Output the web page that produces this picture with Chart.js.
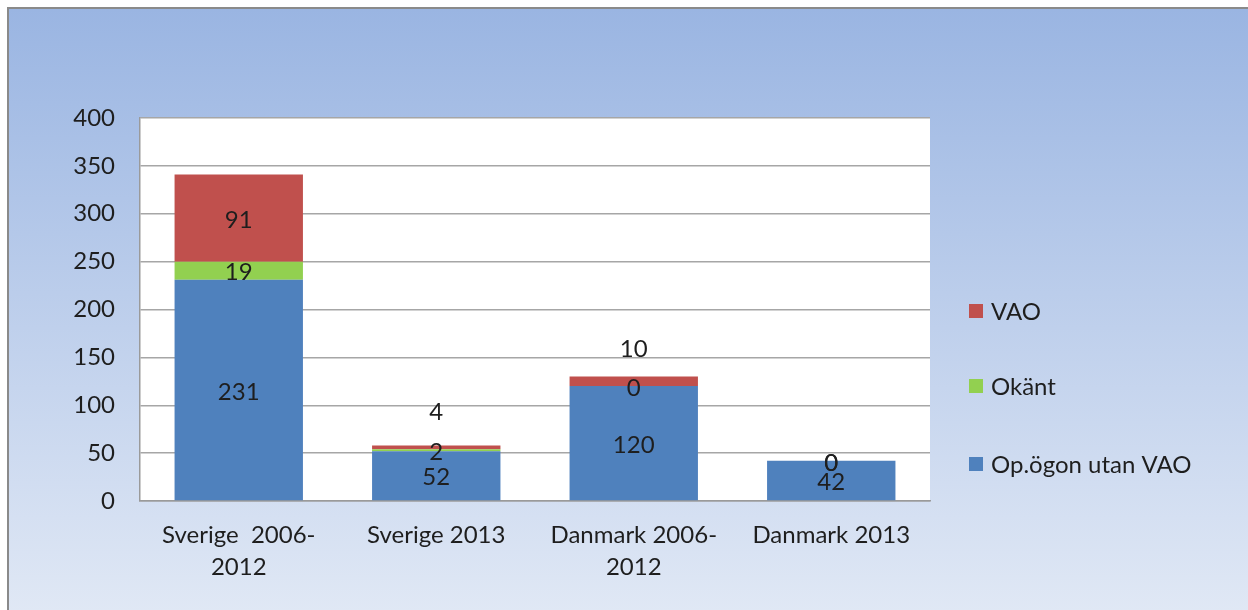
<!DOCTYPE html>
<html><head><meta charset="utf-8">
<script src="https://cdn.jsdelivr.net/npm/chart.js@4"></script>
<style>
html,body{margin:0;padding:0;background:#fff;width:1248px;height:610px;overflow:hidden}
#bg{position:absolute;left:7px;top:7px;width:1260px;height:620px;border-left:2px solid #8a8a8a;border-top:2px solid #8a8a8a;background:linear-gradient(to bottom,#9ab5e2 0px,#e0e8f5 603px)}
canvas{position:absolute;left:0;top:0}
</style></head><body>
<div id="bg"></div>
<canvas id="c" width="1248" height="610"></canvas>
<script>
const categories = [["Sverige  2006-", "2012"], "Sverige 2013", ["Danmark 2006-", "2012"], "Danmark 2013"];
const seriesNames = ["Op.ögon utan VAO", "Okänt", "VAO"];
const opogonUtanVAO = [231, 52, 120, 42];
const okant = [19, 2, 0, 0];
const vao = [91, 4, 10, 0];
const yTicks = [0, 50, 100, 150, 200, 250, 300, 350, 400];

const FONT = "Lato, 'Open Sans', sans-serif";
const FSIZE = 24;
const TXT = '#1e1e1e';
const colors = ['#4f81bd', '#92d050', '#c0504d'];
// vertical pixel shifts for a few hand-moved labels (dataset index -> per-bar shift)
const labelShift = {2: [0, -37, -34, 0]};

const plotBg = {
  id: 'plotBg',
  beforeDraw(chart) {
    const {ctx, chartArea: a} = chart;
    ctx.save();
    ctx.fillStyle = '#ffffff';
    ctx.fillRect(a.left, a.top, a.right - a.left, a.bottom - a.top);
    ctx.restore();
  }
};

const valueLabels = {
  id: 'valueLabels',
  afterDatasetsDraw(chart) {
    const {ctx} = chart;
    ctx.save();
    ctx.font = FSIZE + 'px ' + FONT;
    ctx.fillStyle = TXT;
    ctx.textAlign = 'center';
    ctx.textBaseline = 'middle';
    chart.data.datasets.forEach((ds, di) => {
      const meta = chart.getDatasetMeta(di);
      meta.data.forEach((el, i) => {
        const p = el.getProps(['x', 'y', 'base'], true);
        const shift = (labelShift[di] || [])[i] || 0;
        ctx.fillText(String(ds.data[i]), p.x, (p.y + p.base) / 2 + shift + 2);
      });
    });
    ctx.restore();
  }
};

const sideLegend = {
  id: 'sideLegend',
  afterDraw(chart) {
    const {ctx} = chart;
    const ys = [311, 386, 464];
    ctx.save();
    ctx.font = FSIZE + 'px ' + FONT;
    ctx.textBaseline = 'middle';
    ctx.textAlign = 'left';
    const n = chart.data.datasets.length;
    for (let k = 0; k < n; k++) {
      const ds = chart.data.datasets[n - 1 - k];
      const y = ys[k];
      ctx.fillStyle = ds.backgroundColor;
      ctx.fillRect(969, y - 7, 14, 14);
      ctx.fillStyle = TXT;
      ctx.fillText(ds.label, 991, y + 1);
    }
    ctx.restore();
  }
};

new Chart(document.getElementById('c'), {
  type: 'bar',
  data: {
    labels: categories,
    datasets: [
      {label: seriesNames[0], data: opogonUtanVAO, backgroundColor: colors[0]},
      {label: seriesNames[1], data: okant, backgroundColor: colors[1]},
      {label: seriesNames[2], data: vao, backgroundColor: colors[2]}
    ]
  },
  options: {
    responsive: false,
    animation: false,
    layout: {padding: {left: 0, right: 318, top: 118, bottom: 0}},
    datasets: {bar: {barPercentage: 0.65, categoryPercentage: 1}},
    plugins: {legend: {display: false}, tooltip: {enabled: false}},
    scales: {
      x: {
        stacked: true,
        grid: {display: false, drawTicks: false},
        border: {display: true, color: '#9a9a9a', width: 1.5},
        ticks: {color: TXT, font: {family: FONT, size: FSIZE, lineHeight: 1.35}, padding: 18, maxRotation: 0},
        afterFit(s) { s.height = 109; }
      },
      y: {
        stacked: true,
        min: 0, max: 400,
        afterBuildTicks(s) { s.ticks = yTicks.map(v => ({value: v})); },
        grid: {color: '#a6a6a6', lineWidth: 1.5, drawTicks: false},
        border: {display: true, color: '#9a9a9a', width: 1.5},
        ticks: {color: TXT, font: {family: FONT, size: FSIZE}, padding: 25},
        afterFit(s) { s.width = 140; }
      }
    }
  },
  plugins: [plotBg, valueLabels, sideLegend]
});
</script>
</body></html>
